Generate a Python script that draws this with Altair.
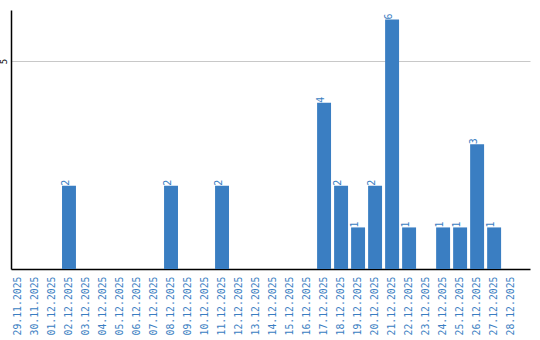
import altair as alt
import pandas as pd

dates = ["29.11.2025", "30.11.2025", "01.12.2025", "02.12.2025", "03.12.2025",
         "04.12.2025", "05.12.2025", "06.12.2025", "07.12.2025", "08.12.2025",
         "09.12.2025", "10.12.2025", "11.12.2025", "12.12.2025", "13.12.2025",
         "14.12.2025", "15.12.2025", "16.12.2025", "17.12.2025", "18.12.2025",
         "19.12.2025", "20.12.2025", "21.12.2025", "22.12.2025", "23.12.2025",
         "24.12.2025", "25.12.2025", "26.12.2025", "27.12.2025", "28.12.2025"]
counts = [0, 0, 0, 2, 0,
          0, 0, 0, 0, 2,
          0, 0, 2, 0, 0,
          0, 0, 0, 4, 2,
          1, 2, 6, 1, 0,
          1, 1, 3, 1, 0]

df = pd.DataFrame({"date": dates, "count": counts})
df["label"] = df["count"].apply(lambda v: str(v) if v > 0 else "")

BLUE = "#3a7ec2"
FONT = "DejaVu Sans Mono"

x_scale = alt.Scale(paddingInner=0.18, paddingOuter=0.35, align=0)

x_enc = alt.X("date:N", sort=dates, scale=x_scale,
              axis=alt.Axis(title=None, labelAngle=270, labelAlign="right",
                            labelBaseline="middle", labelColor=BLUE,
                            labelFont=FONT, labelFontSize=9.8, labelPadding=7,
                            ticks=False, domainColor="black", domainWidth=1.5,
                            grid=False))
y_enc = alt.Y("count:Q", scale=alt.Scale(domain=[0, 6.23], nice=False),
              axis=alt.Axis(title=None, values=[5], labelAngle=270,
                            labelAlign="center", labelBaseline="bottom",
                            labelFont=FONT, labelFontSize=9, labelColor="black",
                            labelPadding=3, ticks=False, domainColor="black",
                            domainWidth=1.5, gridColor="#c8c8c8"))

bars = alt.Chart(df).mark_bar(color=BLUE).encode(x=x_enc, y=y_enc)
labels = alt.Chart(df).mark_text(angle=270, align="left", baseline="middle",
                                 dy=-3, color=BLUE, font=FONT, fontSize=10).encode(
    x=alt.X("date:N", sort=dates, scale=x_scale), y="count:Q", text="label:N")

chart = (bars + labels).properties(
    width=519, height=259,
    background="white",
    autosize=alt.AutoSizeParams(type="none"),
    padding={"left": 11, "top": 10, "right": 10, "bottom": 71},
).configure_view(stroke=None)

chart.save("out.html", embed_options={"renderer": "svg", "actions": False})
